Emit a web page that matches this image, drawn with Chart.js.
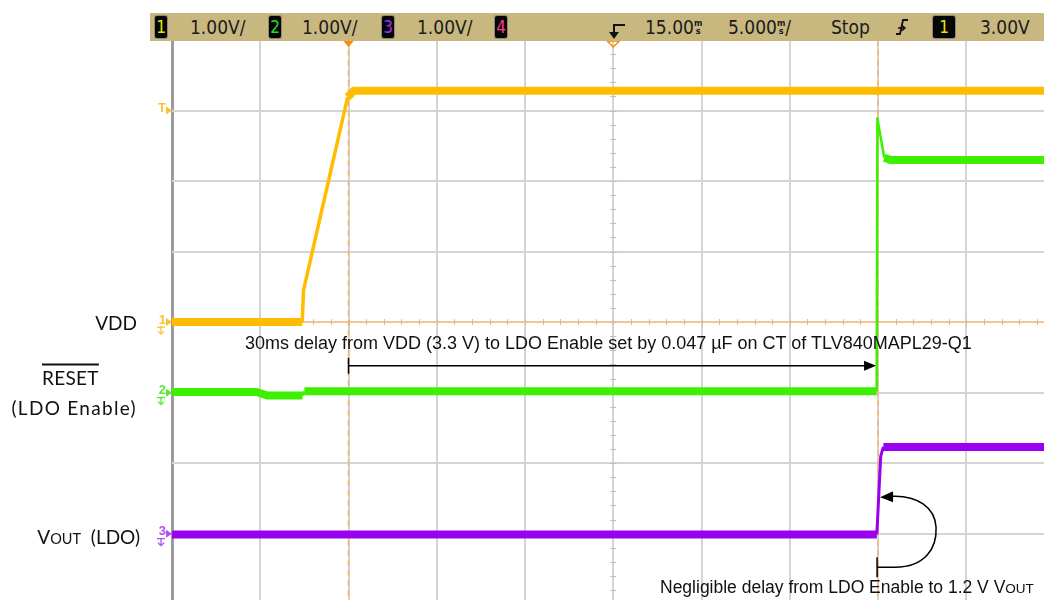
<!DOCTYPE html>
<html><head><meta charset="utf-8">
<script src="https://cdn.jsdelivr.net/npm/chart.js@4.4.1/dist/chart.umd.min.js"></script>
<style>
html,body{margin:0;padding:0;background:#fff;overflow:hidden;}
#wrap{position:relative;width:1044px;height:600px;overflow:hidden;}
#c{position:absolute;left:0;top:0;}
.t{position:absolute;white-space:nowrap;line-height:1;transform:translateY(-50%);}
#hdr{position:absolute;left:150px;top:13px;width:894px;height:28px;background:#c8b880;}
.hv{position:absolute;top:0;height:28px;line-height:28px;font-family:"Liberation Sans Narrow","DejaVu Sans Condensed","Liberation Sans",sans-serif;font-size:19px;color:#1b1b1b;white-space:nowrap;}
.badge{position:absolute;top:3px;height:22px;line-height:22px;background:#050505;border-radius:2px;box-shadow:0 0 0 1px #8f8a78;text-align:center;font-family:"Liberation Sans Narrow","DejaVu Sans Condensed",sans-serif;font-size:17px;}
.ms{display:inline-block;font-size:9px;line-height:8px;vertical-align:top;margin-top:6px;text-align:center;font-weight:bold;}
.lbl{font-family:Lato,"Open Sans",sans-serif;font-size:19px;color:#111;}
.ann{font-family:"Liberation Sans",Arial,sans-serif;font-size:18px;color:#111;}
.sc{font-size:13.5px;}
</style></head>
<body>
<div id="wrap">
<canvas id="c" width="1044" height="600"></canvas>
<div id="hdr">
  <div class="badge" style="left:5px;width:12px;color:#e6e600">1</div>
  <div class="hv" id="s1" style="left:40px"></div>
  <div class="badge" style="left:119px;width:12px;color:#22dd22">2</div>
  <div class="hv" id="s2" style="left:152px"></div>
  <div class="badge" style="left:232px;width:12px;color:#a030ff">3</div>
  <div class="hv" id="s3" style="left:267px"></div>
  <div class="badge" style="left:345px;width:12px;color:#ff3c8c">4</div>
  <svg style="position:absolute;left:455px;top:0" width="24" height="28">
    <path d="M8 12 L20 12" stroke="#111" stroke-width="2" fill="none"/>
    <path d="M9 12 L9 20" stroke="#111" stroke-width="2" fill="none"/>
    <path d="M4 19 L14 19 L9 26 Z" fill="#111"/>
  </svg>
  <div class="hv" style="left:495px"><span id="dly"></span><span class="ms">m<br>s</span></div>
  <div class="hv" style="left:578px"><span id="tb"></span><span class="ms">m<br>s</span>/</div>
  <div class="hv" id="run" style="left:681px"></div>
  <svg style="position:absolute;left:744px;top:0" width="16" height="28">
    <path d="M2 21 L6 21 L9 7 L14 7" stroke="#111" stroke-width="1.8" fill="none"/>
    <path d="M4 15 L11 15 M7.5 12 L11 15 L7.5 18" stroke="#111" stroke-width="1.5" fill="none"/>
  </svg>
  <div class="badge" style="left:783px;width:22px;color:#e6e600">1</div>
  <div class="hv" id="tl" style="left:830px"></div>
</div>
<div class="t lbl" style="right:907px;top:322px">VDD</div>
<div class="t lbl" style="left:42px;top:377px;text-decoration:overline;text-decoration-thickness:1.5px;letter-spacing:0.3px">RESET</div>
<div class="t lbl" style="right:907px;top:407px;letter-spacing:1.3px">(LDO Enable)</div>
<div class="t lbl" style="right:904px;top:537px">V<span style="font-size:14.5px">OUT</span>&nbsp; (LDO)</div>
<div class="t ann" id="a1" style="left:245px;top:343px">30ms delay from VDD (3.3 V) to LDO Enable set by 0.047 µF on CT of TLV840MAPL29-Q1</div>
<div class="t ann" id="a2" style="left:660px;top:588px;font-size:17.5px">Negligible delay from LDO Enable to 1.2 V V<span class="sc">OUT</span></div>
</div>
<script>
// ---- data (time in ms, voltage in V) ----
const ch1Time = [-10, -2.62, -2.55, -0.05, 0.3, 39.4];
const ch1Volt = [0.0, 0.0, 0.45, 3.19, 3.28, 3.28];
const ch2Time = [-10, -5.2, -4.6, -2.6, -2.5, 29.92, 29.96, 30.35, 30.7, 39.4];
const ch2Volt = [0.01, 0.01, -0.04, -0.04, 0.02, 0.02, 3.89, 3.33, 3.3, 3.3];
const ch3Time = [-10, 29.93, 30.05, 30.15, 30.3, 39.4];
const ch3Volt = [-0.01, -0.01, 0.6, 1.1, 1.23, 1.23];
const scaleLabels = ['1.00V/', '1.00V/', '1.00V/'];
const delayLabel = '15.00';
const timebaseLabel = '5.000';
const runLabel = 'Stop';
const trigLabel = '3.00V';
// ---- scope settings ----
const chOffset = [0, -1, -3];         // ground level of each channel, in divisions
const xMin = -10, xMax = 39.4, xCenter = 15, xStep = 5;
const yMin = -3.94, yMax = 4;
const trigLevel = 3.0;
const enableTime = 30;

document.getElementById('s1').textContent = scaleLabels[0];
document.getElementById('s2').textContent = scaleLabels[1];
document.getElementById('s3').textContent = scaleLabels[2];
document.getElementById('dly').textContent = delayLabel;
document.getElementById('tb').textContent = timebaseLabel;
document.getElementById('run').textContent = runLabel;
document.getElementById('tl').textContent = trigLabel;

function pts(t, v, off) { return t.map((tt, i) => ({x: tt, y: v[i] + off})); }
const xTicks = []; for (let v = xMin; v < xMax; v += xStep) xTicks.push(v);
const yTicks = []; for (let v = Math.ceil(yMin); v <= yMax; v++) yTicks.push(v);

const segW = (thick, thin) => ({
  borderWidth: c => {
    const dx = Math.abs(c.p1.x - c.p0.x), dy = Math.abs(c.p1.y - c.p0.y);
    return dy > 2 * dx ? thin : thick;
  }
});

const COL1 = '#ffbc00', COL2 = '#3cf000', COL3 = '#9a00f0';

const overlay = {
  id: 'overlay',
  beforeDatasetsDraw(chart) {
    const {ctx, chartArea: a, scales: {x, y}} = chart;
    ctx.save();
    const cx = x.getPixelForValue(xCenter), cy = y.getPixelForValue(0);
    ctx.strokeStyle = '#f8c48e'; ctx.lineWidth = 2;
    ctx.beginPath(); ctx.moveTo(a.left, cy); ctx.lineTo(a.right, cy); ctx.stroke();
    ctx.strokeStyle = '#bdbdbd'; ctx.lineWidth = 1;
    ctx.beginPath();
    for (let v = xMin; v <= xMax; v += xStep / 5) {
      const px = Math.round(x.getPixelForValue(v)) + 0.5;
      ctx.moveTo(px, cy - 3); ctx.lineTo(px, cy + 3);
    }
    for (let v = -4; v <= yMax; v += 0.2) {
      const py = Math.round(y.getPixelForValue(v)) + 0.5;
      ctx.moveTo(cx - 3, py); ctx.lineTo(cx + 3, py);
    }
    ctx.stroke();
    ctx.strokeStyle = '#f9b36a'; ctx.lineWidth = 1.5; ctx.setLineDash([6, 4]);
    [0, enableTime].forEach(t => {
      const px = x.getPixelForValue(t);
      ctx.beginPath(); ctx.moveTo(px, a.top); ctx.lineTo(px, a.bottom); ctx.stroke();
    });
    ctx.restore();
  },
  afterDatasetsDraw(chart) {
    const {ctx, chartArea: a, scales: {x, y}} = chart;
    ctx.save();
    const t0 = x.getPixelForValue(0), tc = x.getPixelForValue(xCenter);
    ctx.fillStyle = '#ff8a00';
    ctx.beginPath(); ctx.moveTo(t0 - 6, a.top); ctx.lineTo(t0 + 6, a.top); ctx.lineTo(t0, a.top + 7); ctx.fill();
    ctx.strokeStyle = '#ff8a00'; ctx.lineWidth = 1.5;
    ctx.beginPath(); ctx.moveTo(tc - 6, a.top + 1); ctx.lineTo(tc + 6, a.top + 1); ctx.lineTo(tc, a.top + 7); ctx.closePath(); ctx.stroke();
    const mk = (label, val, col, gnd) => {
      const py = y.getPixelForValue(val);
      ctx.fillStyle = col; ctx.strokeStyle = col;
      ctx.font = 'bold 13px "Liberation Sans", sans-serif';
      ctx.textAlign = 'right'; ctx.textBaseline = 'middle';
      ctx.fillText(label, a.left - 6, py - 2);
      ctx.beginPath(); ctx.moveTo(a.left - 6, py - 4); ctx.lineTo(a.left, py); ctx.lineTo(a.left - 6, py + 4); ctx.fill();
      if (gnd) {
        ctx.lineWidth = 1.3;
        ctx.beginPath(); ctx.moveTo(a.left - 11, py + 4); ctx.lineTo(a.left - 11, py + 12);
        ctx.moveTo(a.left - 14, py + 9); ctx.lineTo(a.left - 11, py + 12); ctx.lineTo(a.left - 8, py + 9);
        ctx.moveTo(a.left - 15, py + 5); ctx.lineTo(a.left - 7, py + 5);
        ctx.stroke();
      }
    };
    mk('T', trigLevel + chOffset[0], '#ffc030', false);
    mk('1', chOffset[0], '#ffc030', true);
    mk('2', chOffset[1], '#55e833', true);
    mk('3', chOffset[2], '#b050f0', true);
    ctx.strokeStyle = '#000'; ctx.fillStyle = '#000'; ctx.lineWidth = 1.5;
    const xs = x.getPixelForValue(0), xe = x.getPixelForValue(enableTime);
    const ya = y.getPixelForValue(-0.62);
    ctx.beginPath();
    ctx.moveTo(xs, ya - 8); ctx.lineTo(xs, ya + 8);
    ctx.moveTo(xs, ya); ctx.lineTo(xe - 12, ya);
    ctx.stroke();
    ctx.beginPath(); ctx.moveTo(xe - 2, ya); ctx.lineTo(xe - 14, ya - 5); ctx.lineTo(xe - 14, ya + 5); ctx.closePath(); ctx.fill();
    const xb = xe - 1, yb = y.getPixelForValue(-3.475);
    ctx.beginPath();
    ctx.moveTo(xb, yb - 10); ctx.lineTo(xb, yb + 10);
    ctx.moveTo(xb, yb); ctx.lineTo(xb + 18, yb);
    ctx.bezierCurveTo(xb + 48, yb, xb + 60, yb - 19, xb + 59, yb - 40);
    ctx.bezierCurveTo(xb + 58, yb - 60, xb + 40, yb - 72, xb + 15, yb - 71);
    ctx.stroke();
    ctx.beginPath(); ctx.moveTo(xb + 3, yb - 70); ctx.lineTo(xb + 16, yb - 76); ctx.lineTo(xb + 16, yb - 65); ctx.closePath(); ctx.fill();
    ctx.restore();
  }
};

new Chart(document.getElementById('c'), {
  type: 'line',
  data: {
    datasets: [
      {data: pts(ch2Time, ch2Volt, chOffset[1]), borderColor: COL2, segment: segW(8, 2.5)},
      {data: pts(ch3Time, ch3Volt, chOffset[2]), borderColor: COL3, segment: segW(8, 3)},
      {data: pts(ch1Time, ch1Volt, chOffset[0]), borderColor: COL1, segment: segW(8, 3.5)}
    ]
  },
  options: {
    responsive: false,
    animation: false,
    events: [],
    layout: {padding: {left: 172, top: 40, right: 0, bottom: 0}},
    elements: {point: {radius: 0}, line: {tension: 0, borderJoinStyle: 'round', borderWidth: 8}},
    plugins: {legend: {display: false}, tooltip: {enabled: false}},
    scales: {
      x: {
        type: 'linear', min: xMin, max: xMax,
        afterBuildTicks: s => { s.ticks = xTicks.map(v => ({value: v})); },
        ticks: {display: false},
        border: {display: false},
        grid: {drawTicks: false, color: c => c.tick && c.tick.value === xMin ? '#9c9c9c' : '#d4d4d4', lineWidth: c => c.tick && c.tick.value === xMin ? 3 : 2}
      },
      y: {
        type: 'linear', min: yMin, max: yMax,
        afterBuildTicks: s => { s.ticks = yTicks.map(v => ({value: v})); },
        ticks: {display: false},
        border: {display: false},
        grid: {drawTicks: false, color: '#d4d4d4', lineWidth: 2}
      }
    }
  },
  plugins: [overlay]
});
</script>
</body></html>
